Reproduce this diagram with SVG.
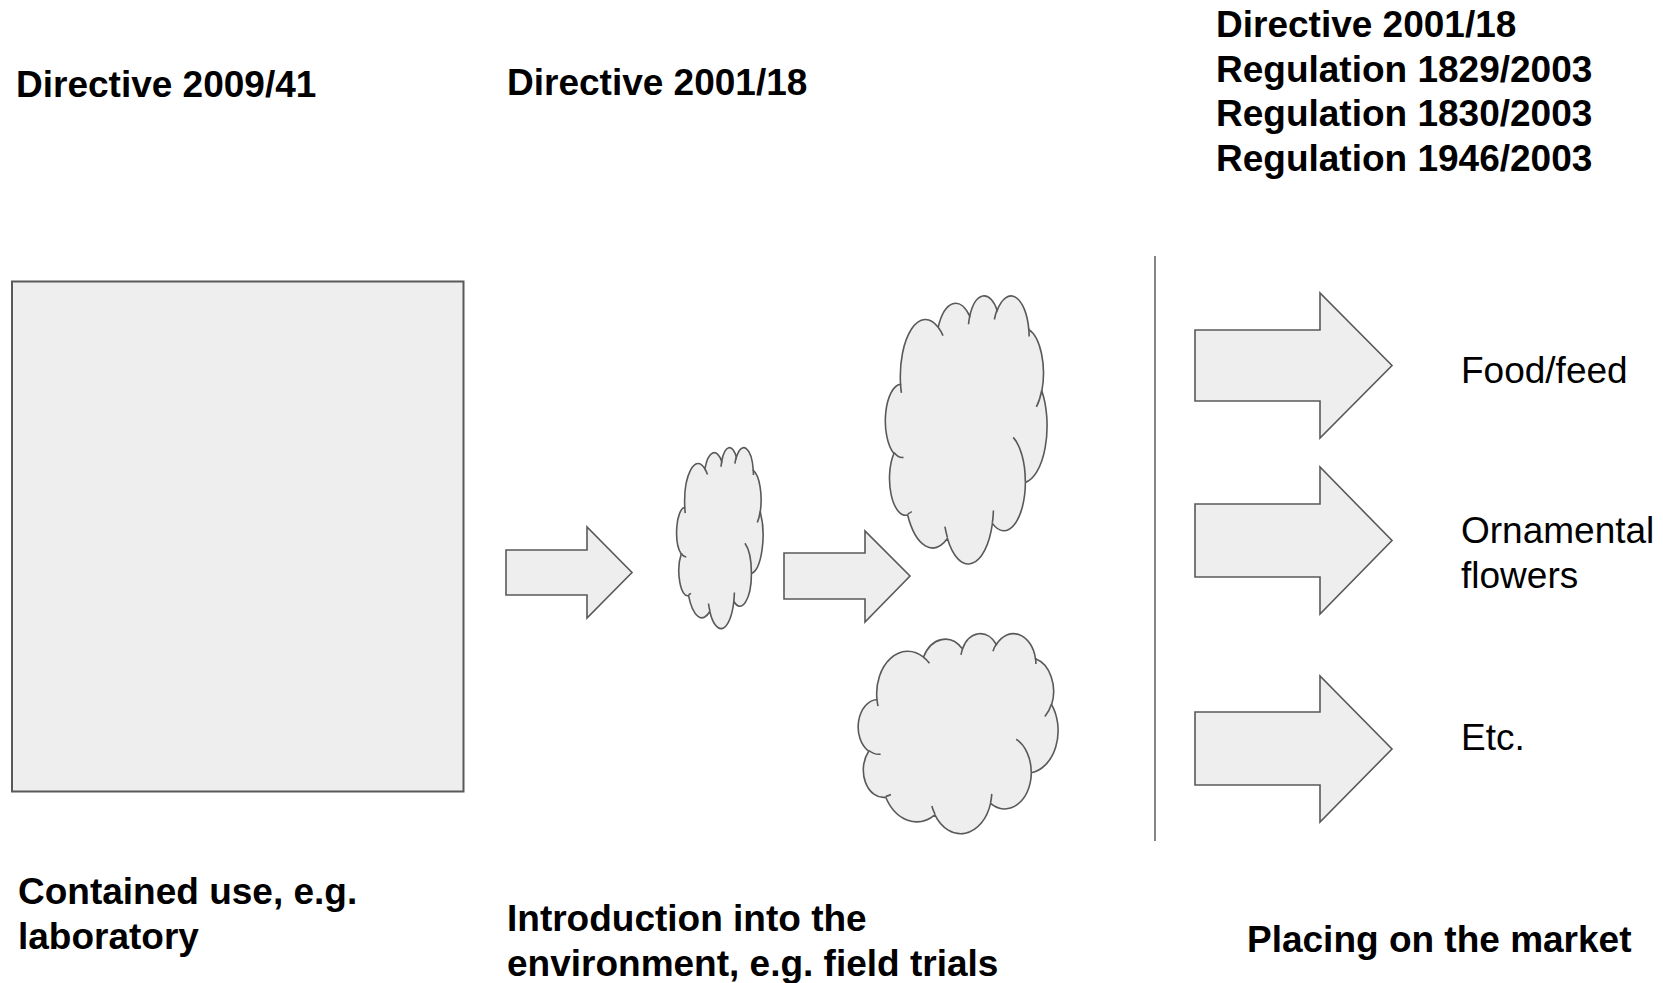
<svg xmlns="http://www.w3.org/2000/svg" xmlns:xlink="http://www.w3.org/1999/xlink" width="1663" height="983" viewBox="0 0 1663 983">
<style>
.b{font-family:"Liberation Sans",Arial,sans-serif;font-weight:bold;font-size:37px;fill:#000}
.r{font-family:"Liberation Sans",Arial,sans-serif;font-size:37px;fill:#000}
.shape{fill:#eeeeee;stroke:#595959;stroke-width:1.6;stroke-linejoin:miter}
.seam{fill:none;stroke:#595959;stroke-width:1.6}
</style>
<defs>
<path id="cloudBody" vector-effect="non-scaling-stroke" d="M3900,14370 A6753,9190 0 0 1 14005,5202 A5333,7267 0 0 1 22456,3432 A4365,5945 0 0 1 29833,2481 A4857,6595 0 0 1 38318,5576 A5333,7273 0 0 1 41819,15460 A6775,9220 0 0 1 37404,30203 A5785,7867 0 0 1 28556,36813 A6752,9215 0 0 1 16481,39264 A7720,10543 0 0 1 5805,35470 A4360,5918 0 0 1 2114,25548 A4345,5945 0 0 1 3900,14370 Z"/>
<path id="cloudSeams" vector-effect="non-scaling-stroke" d="M4693,26177 A4345,5945 0 0 1 2160,25380 M6928,34899 A4360,5918 0 0 1 5820,35281 M16478,39090 A6752,9215 0 0 1 15810,37350 M28827,34751 A6752,9215 0 0 1 28560,36660 M34129,22954 A5785,7867 0 0 1 37380,30090 M41798,15354 A5333,7273 0 0 1 40350,18030 M38324,5426 A4857,6595 0 0 1 38400,6690 M29078,3952 A4857,6595 0 0 1 29820,2340 M22141,4720 A4365,5945 0 0 1 22500,3330 M14000,5192 A6753,9190 0 0 1 15300,6540 M4127,15789 A6753,9190 0 0 1 3900,14371"/>
</defs>

<g id="heading-contained"><text class="b" x="16" y="97">Directive 2009/41</text></g>
<g id="heading-introduction"><text class="b" x="507" y="95">Directive 2001/18</text></g>
<g id="heading-market">
<text class="b" x="1216" y="37">Directive 2001/18</text>
<text class="b" x="1216" y="81.7">Regulation 1829/2003</text>
<text class="b" x="1216" y="126.4">Regulation 1830/2003</text>
<text class="b" x="1216" y="171">Regulation 1946/2003</text>
</g>

<g id="lab-box"><rect class="shape" x="12" y="281.5" width="451.5" height="510" style="stroke-width:2"/></g>

<g id="cloud-small" transform="translate(677,447) scale(0.0019907,0.0041898)">
<use xlink:href="#cloudBody" class="shape"/><use xlink:href="#cloudSeams" class="seam"/>
</g>
<g id="cloud-large-top" transform="translate(886,295) scale(0.0037269,0.0062037)">
<use xlink:href="#cloudBody" class="shape"/><use xlink:href="#cloudSeams" class="seam"/>
</g>
<g id="cloud-large-bottom" transform="translate(859,633) scale(0.0046065,0.0046296)">
<use xlink:href="#cloudBody" class="shape"/><use xlink:href="#cloudSeams" class="seam"/>
</g>

<g id="connectors">
<polygon class="shape" points="506,550 587,550 587,527 632,572.5 587,618 587,595 506,595"/>
<polygon class="shape" points="784,553 865,553 865,531 910,576 865,622 865,599 784,599"/>
<line x1="1155" y1="256" x2="1155" y2="841" stroke="#666666" stroke-width="1.6"/>
<polygon class="shape" points="1195,330 1320,330 1320,293 1392,365.5 1320,438 1320,401 1195,401"/>
<polygon class="shape" points="1195,504 1320,504 1320,467 1392,540.5 1320,614 1320,577 1195,577"/>
<polygon class="shape" points="1195,712 1320,712 1320,676 1392,749 1320,822 1320,785 1195,785"/>
</g>

<g id="label-food"><text class="r" x="1461" y="383">Food/feed</text></g>
<g id="label-ornamental"><text class="r" x="1461" y="543">Ornamental</text><text class="r" x="1461" y="588">flowers</text></g>
<g id="label-etc"><text class="r" x="1461" y="750">Etc.</text></g>

<g id="caption-contained"><text class="b" x="18" y="904">Contained use, e.g.</text><text class="b" x="18" y="949">laboratory</text></g>
<g id="caption-introduction"><text class="b" x="507" y="931">Introduction into the</text><text class="b" x="507" y="976">environment, e.g. field trials</text></g>
<g id="caption-market"><text class="b" x="1247" y="952">Placing on the market</text></g>
</svg>
